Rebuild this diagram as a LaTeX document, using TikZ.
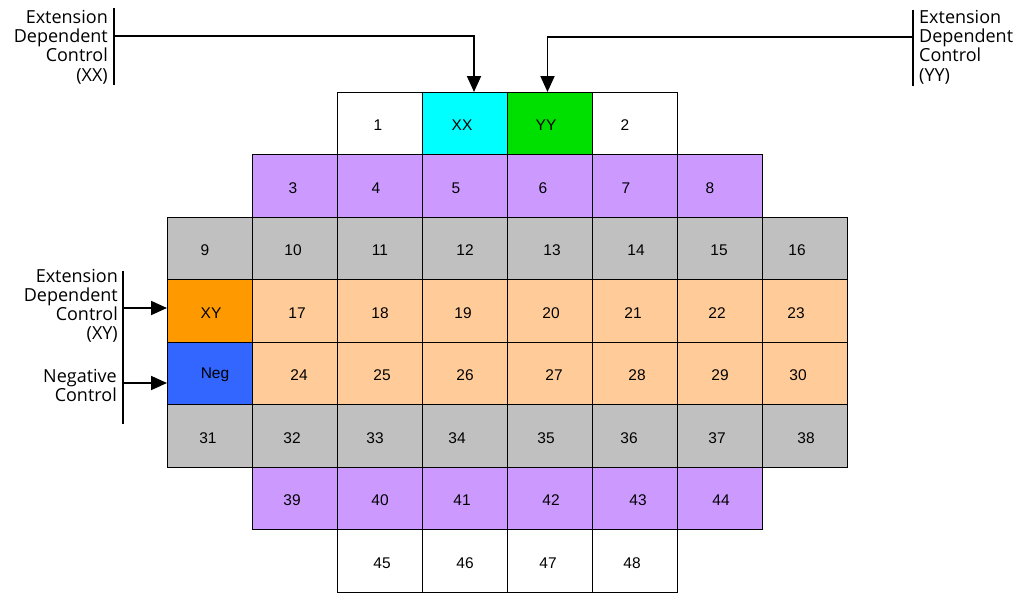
\documentclass[tikz,border=0pt]{standalone}
\usepackage{fontspec}
\setmainfont{Liberation Sans}
\newfontfamily\labfont{Open Sans}
\usetikzlibrary{arrows.meta}
\definecolor{cyanc}{HTML}{00FFFF}
\definecolor{greenc}{HTML}{00E000}
\definecolor{purplec}{HTML}{CC99FF}
\definecolor{grayc}{HTML}{C0C0C0}
\definecolor{peachc}{HTML}{FFCC99}
\definecolor{orangec}{HTML}{FF9900}
\definecolor{bluec}{HTML}{3366FF}
\newcommand\mycell[6]{%
  \node[cell, fill=#4] (#1) at ({209.5+85*#2},{123.25+62.5*#3}) {};
  \node[num] (#1t) at (#6,{125.25+62.5*#3}) {#5};}
\begin{document}
\begin{tikzpicture}[x=1pt,y=-1pt,
  cell/.style={draw=black, line width=0.7pt, minimum width=85pt, minimum height=62.5pt, inner sep=0pt, outer sep=0pt},
  num/.style={font=\fontsize{15.5}{18}\selectfont, inner sep=0pt},
  lab/.style={font=\labfont\fontsize{18}{20}\selectfont, inner sep=0pt, text=black},
  conn/.style={line width=1.8pt},
  arr/.style={conn, -{Triangle[length=16pt,width=14pt]}}]
\useasboundingbox (0,0) rectangle (1020,600);
% row 0
\mycell{c1}{2}{0}{white}{1}{378}
\mycell{cXX}{3}{0}{cyanc}{XX}{462}
\mycell{cYY}{4}{0}{greenc}{YY}{546}
\mycell{c2}{5}{0}{white}{2}{625}
% row 1
\mycell{c3}{1}{1}{purplec}{3}{293}
\mycell{c4}{2}{1}{purplec}{4}{376}
\mycell{c5}{3}{1}{purplec}{5}{456}
\mycell{c6}{4}{1}{purplec}{6}{543}
\mycell{c7}{5}{1}{purplec}{7}{626}
\mycell{c8}{6}{1}{purplec}{8}{710}
% row 2
\mycell{c9}{0}{2}{grayc}{9}{205}
\mycell{c10}{1}{2}{grayc}{10}{293}
\mycell{c11}{2}{2}{grayc}{11}{380}
\mycell{c12}{3}{2}{grayc}{12}{465}
\mycell{c13}{4}{2}{grayc}{13}{552}
\mycell{c14}{5}{2}{grayc}{14}{636}
\mycell{c15}{6}{2}{grayc}{15}{719}
\mycell{c16}{7}{2}{grayc}{16}{797}
% row 3
\mycell{cXY}{0}{3}{orangec}{XY}{211}
\mycell{c17}{1}{3}{peachc}{17}{297}
\mycell{c18}{2}{3}{peachc}{18}{380}
\mycell{c19}{3}{3}{peachc}{19}{463}
\mycell{c20}{4}{3}{peachc}{20}{551}
\mycell{c21}{5}{3}{peachc}{21}{633}
\mycell{c22}{6}{3}{peachc}{22}{717}
\mycell{c23}{7}{3}{peachc}{23}{796}
% row 4
\mycell{cNeg}{0}{4}{bluec}{Neg}{215}
\mycell{c24}{1}{4}{peachc}{24}{299}
\mycell{c25}{2}{4}{peachc}{25}{382}
\mycell{c26}{3}{4}{peachc}{26}{465}
\mycell{c27}{4}{4}{peachc}{27}{554}
\mycell{c28}{5}{4}{peachc}{28}{637}
\mycell{c29}{6}{4}{peachc}{29}{720}
\mycell{c30}{7}{4}{peachc}{30}{798}
% row 5
\mycell{c31}{0}{5}{grayc}{31}{208}
\mycell{c32}{1}{5}{grayc}{32}{292}
\mycell{c33}{2}{5}{grayc}{33}{375}
\mycell{c34}{3}{5}{grayc}{34}{457}
\mycell{c35}{4}{5}{grayc}{35}{546}
\mycell{c36}{5}{5}{grayc}{36}{629}
\mycell{c37}{6}{5}{grayc}{37}{717}
\mycell{c38}{7}{5}{grayc}{38}{806}
% row 6
\mycell{c39}{1}{6}{purplec}{39}{292}
\mycell{c40}{2}{6}{purplec}{40}{380}
\mycell{c41}{3}{6}{purplec}{41}{462}
\mycell{c42}{4}{6}{purplec}{42}{551}
\mycell{c43}{5}{6}{purplec}{43}{638}
\mycell{c44}{6}{6}{purplec}{44}{721}
% row 7
\mycell{c45}{2}{7}{white}{45}{382}
\mycell{c46}{3}{7}{white}{46}{465}
\mycell{c47}{4}{7}{white}{47}{548}
\mycell{c48}{5}{7}{white}{48}{632}
% labels
\node[lab, anchor=base east] (lxx1) at (108,23) {Extension};
\node[lab, anchor=base east] (lxx2) at (108,42) {Dependent};
\node[lab, anchor=base east] (lxx3) at (108,61) {Control};
\node[lab, anchor=base east] (lxx4) at (108,81) {(XX)};
\node[lab, anchor=base west] (lyy1) at (919,23) {Extension};
\node[lab, anchor=base west] (lyy2) at (919,42) {Dependent};
\node[lab, anchor=base west] (lyy3) at (919,61) {Control};
\node[lab, anchor=base west] (lyy4) at (919,81) {(YY)};
\node[lab, anchor=base east] (lxy1) at (118,282) {Extension};
\node[lab, anchor=base east] (lxy2) at (118,301) {Dependent};
\node[lab, anchor=base east] (lxy3) at (118,320) {Control};
\node[lab, anchor=base east] (lxy4) at (118,339) {(XY)};
\node[lab, anchor=base east] (lng1) at (117,382) {Negative};
\node[lab, anchor=base east] (lng2) at (117,401) {Control};
% bars and connectors
\coordinate (bxxt) at (114,8);
\coordinate (bxxb) at (114,85);
\coordinate (jxx) at (114,36);
\coordinate (byyt) at (913,10);
\coordinate (byyb) at (913,86);
\coordinate (jyy) at (913,37);
\coordinate (bmt) at (123,271);
\coordinate (bmb) at (123,424);
\coordinate (jxy) at (123,308);
\coordinate (jng) at (123,383);
\draw[conn] (bxxt) -- (bxxb);
\draw[conn] (byyt) -- (byyb);
\draw[conn] (bmt) -- (bmb);
\draw[arr] (jxx) -| ([xshift=9.5pt]cXX.north);
\draw[arr] (jyy) -| ([xshift=-2pt]cYY.north);
\draw[arr] (jxy) -- (jxy -| cXY.west);
\draw[arr] (jng) -- (jng -| cNeg.west);
\end{tikzpicture}
\end{document}
